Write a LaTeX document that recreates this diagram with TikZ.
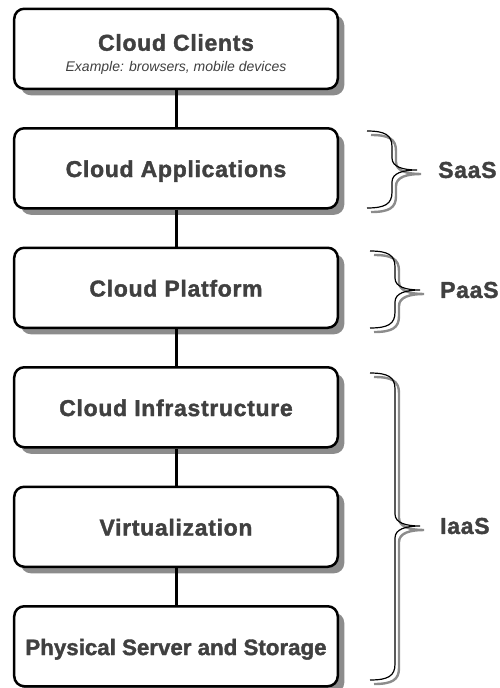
\documentclass[tikz,border=0pt]{standalone}
\usepackage{fontspec}
\setmainfont{Liberation Sans}
\newfontfamily\heavyfont[FakeBold=1.6,LetterSpace=3]{Liberation Sans Bold}
\newfontfamily\heavytight[FakeBold=1.6]{Liberation Sans Bold}
\usepackage{xcolor}
\usetikzlibrary{matrix,shadows}
\definecolor{textgray}{HTML}{404040}
\definecolor{shadowgray}{HTML}{8C8C8C}

% curly brace with a grey shadow: #1 = left x, #2 = top y, #3 = bottom y, #4 = tip y
\newcommand{\tierbrace}[4]{%
  \foreach \dx/\col/\lw in {4/shadowgray/2.4pt, 0/black/1.2pt}
  \draw[line width=\lw, draw=\col, shift={(\dx,\dx)}]
    (#1,#2) .. controls ({#1+18},#2) and ({#1+25},{#2+4}) .. ({#1+25},{#2+16})
    -- ({#1+25},{#4-12})
    .. controls ({#1+25},{#4-3}) and ({#1+36},#4) .. ({#1+50},#4)
    .. controls ({#1+36},#4) and ({#1+25},{#4+3}) .. ({#1+25},{#4+12})
    -- ({#1+25},{#3-16})
    .. controls ({#1+25},{#3-4}) and ({#1+18},#3) .. (#1,#3);
}

\begin{document}
\begin{tikzpicture} [x=1pt, y=-1pt,
    tier/.style={draw, line width=2.5pt, rounded corners=10pt, fill=white,
      minimum width=323.5pt, minimum height=80pt, inner sep=2pt,
      text height=17.6pt, text depth=0pt,
      text=textgray, font=\fontsize{23}{26}\heavyfont,
      drop shadow={shadow xshift=6.5pt, shadow yshift=-6.5pt, fill=shadowgray, opacity=1}},
    link/.style={line width=3pt},
    tierlabel/.style={anchor=west, text=textgray, inner sep=0pt,
      font=\fontsize{23}{26}\heavyfont} ]
  \useasboundingbox (0,0) rectangle (500,688);
  \matrix (m) [
    matrix of nodes
    , row sep=37pt
    , nodes={tier}
  ] at (176,347.5) {
    |[text height=4pt]| Cloud Clients \\
    Cloud Applications \\
    Cloud Platform \\
    Cloud Infrastructure \\
    Virtualization \\
    |[font=\fontsize{22.3}{26}\heavytight]| Physical Server and Storage \\
  };
  \node[anchor=base, text=textgray, inner sep=0pt, font=\fontsize{14}{16}\itshape]
    (clientsnote) at ([yshift=-22.5pt]m-1-1.center) {Example: browsers, mobile devices};
  %links between the layers
  \path
  (m-1-1) edge[link] (m-2-1)
  (m-2-1) edge[link] (m-3-1)
  (m-3-1) edge[link] (m-4-1)
  (m-4-1) edge[link] (m-5-1)
  (m-5-1) edge[link] (m-6-1)
  ;
  %service models
  \tierbrace{367}{131}{208}{170}
  \tierbrace{370}{251}{328}{290}
  \tierbrace{370}{373}{680}{526}
  \node[tierlabel] (saas) at (438,170) {SaaS};
  \node[tierlabel] (paas) at (440,290) {PaaS};
  \node[tierlabel] (iaas) at (440,526) {IaaS};
\end{tikzpicture}
\end{document}
